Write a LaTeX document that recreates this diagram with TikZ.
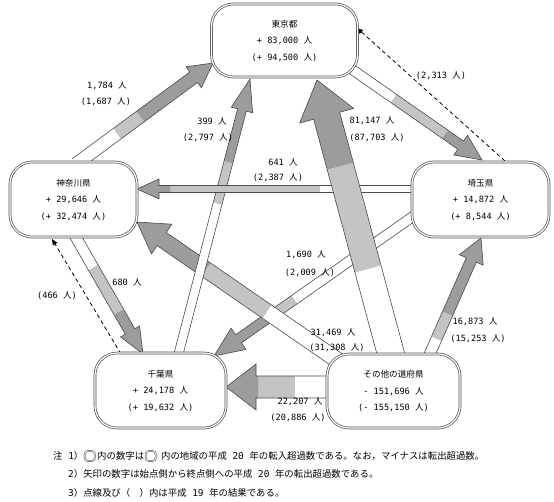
\documentclass[tikz,border=0pt]{standalone}
\usepackage{fontspec}
\setmainfont{Noto Sans CJK JP}
\newfontfamily\numfont{DejaVu Sans Mono}
\newcommand\nm[1]{{\numfont #1}}
\usetikzlibrary{arrows.meta,calc,backgrounds}
\definecolor{boxcol}{HTML}{505058}
\definecolor{lgray}{HTML}{C4C4C4}
\definecolor{mgray}{HTML}{9C9C9C}
\definecolor{arrcol}{HTML}{4A4A4A}
% #1 tail, #2 tip, #3 shaft half width, #4 head half width, #5 head length, #6 #7 fractions
\newcommand\fatarrow[7]{%
  \path let \p1=($(#2)-(#1)$) in (#1) \pgfextra{\pgfmathsetmacro\tmplen{veclen(\x1,\y1)}\pgfmathsetmacro\tmpang{atan2(\y1,\x1)}\xdef\FAlen{\tmplen}\xdef\FAang{\tmpang}};
  \pgfmathsetmacro\FAa{#6*\FAlen}%
  \pgfmathsetmacro\FAb{#7*\FAlen}%
  \pgfmathsetmacro\FAh{\FAlen-#5}%
  \begin{scope}[shift={(#1)}, rotate=\FAang]
    \fill[white] (0,-#3) rectangle (\FAa,#3);
    \fill[lgray] (\FAa,-#3) rectangle (\FAb,#3);
    \fill[mgray] (\FAb,-#3) -- (\FAh,-#3) -- (\FAh,-#4) -- (\FAlen,0) -- (\FAh,#4) -- (\FAh,#3) -- (\FAb,#3) -- cycle;
    \draw[arrline] (0,-#3) -- (\FAh,-#3) -- (\FAh,-#4) -- (\FAlen,0) -- (\FAh,#4) -- (\FAh,#3) -- (0,#3);
  \end{scope}}
\begin{document}
\begin{tikzpicture}[x=1pt,y=1pt,
  region/.style={draw=boxcol, double=white, double distance=1.2pt, line width=0.7pt, rounded corners=22pt, fill=white, align=center, inner sep=0pt, font=\fontsize{8.6}{16.5}\selectfont},
  lab/.style={font=\fontsize{8.6}{10}\selectfont, inner sep=0pt},
  note/.style={font=\fontsize{9.4}{11}\selectfont, inner sep=0pt, text height=7.5pt, text depth=1.5pt, anchor=west},
  icon/.style={draw=boxcol, double=white, double distance=0.8pt, line width=0.5pt, rounded corners=3pt, minimum width=10pt, minimum height=10pt, inner sep=0pt, anchor=west},
  dasharr/.style={draw=black, line width=0.8pt, dash pattern=on 4pt off 3pt, -{Triangle[length=6pt,width=5pt]}},
  arrline/.style={draw=arrcol, line width=0.6pt, line join=miter}
]
\useasboundingbox (0,0) rectangle (554,-501);
% regions
\node[region, minimum width=146pt, minimum height=73pt] (tokyo) at (284.5,-40.5) {東京都\\\nm{+ 83,000 }人\\\nm{(+ 94,500 }人\nm{)}};
\node[region, minimum width=127pt, minimum height=75pt] (kana) at (73.5,-199.5) {神奈川県\\\nm{+ 29,646 }人\\\nm{(+ 32,474 }人\nm{)}};
\node[region, minimum width=137pt, minimum height=75pt] (sait) at (480.5,-199.5) {埼玉県\\\nm{+ 14,872 }人\\\nm{(+ 8,544 }人\nm{)}};
\node[region, minimum width=131pt, minimum height=75pt] (chiba) at (160.5,-390.5) {千葉県\\\nm{+ 24,178 }人\\\nm{(+ 19,632 }人\nm{)}};
\node[region, minimum width=133pt, minimum height=74pt] (other) at (393.5,-391) {その他の道府県\\\nm{- 151,696 }人\\\nm{(- 155,150 }人\nm{)}};
% connector end points
\coordinate (a1s) at (76,-164);  \coordinate (a1e) at (213,-63);
\coordinate (a2s) at (178,-356); \coordinate (a2e) at (250,-79);
\coordinate (a3s) at (392,-358); \coordinate (a3e) at (317,-80);
\coordinate (a4s) at (350,-68);  \coordinate (a4e) at (482,-160);
\coordinate (a5s) at (505,-161); \coordinate (a5e) at (357,-28);
\coordinate (a6s) at (415,-189); \coordinate (a6e) at (137,-189);
\coordinate (a7s) at (415,-215); \coordinate (a7e) at (214,-356);
\coordinate (a8s) at (340,-362); \coordinate (a8e) at (137,-222);
\coordinate (a9s) at (330,-387); \coordinate (a9e) at (226,-387);
\coordinate (a10s) at (428,-358); \coordinate (a10e) at (481,-238);
\coordinate (a11s) at (74,-234); \coordinate (a11e) at (143,-354);
\coordinate (a12s) at (121,-354); \coordinate (a12e) at (52,-239);
\begin{scope}[on background layer]
  \fill[white] (0,0) rectangle (554,-501);
  \fatarrow{a7s}{a7e}{5}{13}{30}{0.60}{0.72}
  \fatarrow{a8s}{a8e}{8}{18}{30}{0.36}{0.66}
  \fatarrow{a2s}{a2e}{4.5}{11}{32}{0.55}{0.70}
  \fatarrow{a6s}{a6e}{3.5}{10}{22}{0.34}{0.88}
  \fatarrow{a3s}{a3e}{13.5}{28}{37}{0.32}{0.69}
  \fatarrow{a1s}{a1e}{6.5}{13}{24}{0.30}{0.47}
  \fatarrow{a4s}{a4e}{5}{12}{26}{0.33}{0.72}
  \fatarrow{a9s}{a9e}{11}{23}{30}{0.34}{0.69}
  \fatarrow{a10s}{a10e}{5.5}{13}{24}{0.16}{0.37}
  \fatarrow{a11s}{a11e}{5.5}{11}{26}{0.28}{0.65}
  \draw[dasharr] (a5s) -- (a5e);
  \draw[dasharr] (a12s) -- (a12e);
\end{scope}
% labels
\node[lab] (l1a) at (107,-86) {\nm{1,784 }人};
\node[lab] (l1b) at (106,-102) {\nm{(1,687 }人\nm{)}};
\node[lab] (l2a) at (212,-121) {\nm{399 }人};
\node[lab] (l2b) at (208,-138) {\nm{(2,797 }人\nm{)}};
\node[lab] (l3a) at (372,-121) {\nm{81,147 }人};
\node[lab] (l3b) at (377,-138) {\nm{(87,703 }人\nm{)}};
\node[lab] (l5) at (441,-76) {\nm{(2,313 }人\nm{)}};
\node[lab] (l6a) at (283,-162) {\nm{641 }人};
\node[lab] (l6b) at (278,-178) {\nm{(2,387 }人\nm{)}};
\node[lab] (l7a) at (306,-255) {\nm{1,690 }人};
\node[lab] (l7b) at (310,-273) {\nm{(2,009 }人\nm{)}};
\node[lab] (l8a) at (333,-333) {\nm{31,469 }人};
\node[lab] (l8b) at (337,-348) {\nm{(31,308 }人\nm{)}};
\node[lab] (l9a) at (300,-402) {\nm{22,207 }人};
\node[lab] (l9b) at (298,-418) {\nm{(20,886 }人\nm{)}};
\node[lab] (l10a) at (475,-322) {\nm{16,873 }人};
\node[lab] (l10b) at (478,-339) {\nm{(15,253 }人\nm{)}};
\node[lab] (l11) at (127,-282) {\nm{680 }人};
\node[lab] (l12) at (57,-296) {\nm{(466 }人\nm{)}};
% notes
\node[note] (n1a) at (53,-456) {注\nm{ 1}）};
\node[icon] (ic1) at ($(n1a.east)+(1,0)$) {};
\node[note] (n1b) at ($(ic1.east)+(2,0)$) {内の数字は};
\node[icon] (ic2) at ($(n1b.east)+(1,0)$) {};
\node[note] (n1c) at ($(ic2.east)+(5,0)$) {内の地域の平成\nm{ 20 }年の転入超過数である。なお，マイナスは転出超過数。};
\node[note] (n2) at (68,-474) {\nm{2}）矢印の数字は始点側から終点側への平成\nm{ 20 }年の転出超過数である。};
\node[note] (n3) at (68,-493) {\nm{3}）点線及び（　）内は平成\nm{ 19 }年の結果である。};
\end{tikzpicture}
\end{document}
